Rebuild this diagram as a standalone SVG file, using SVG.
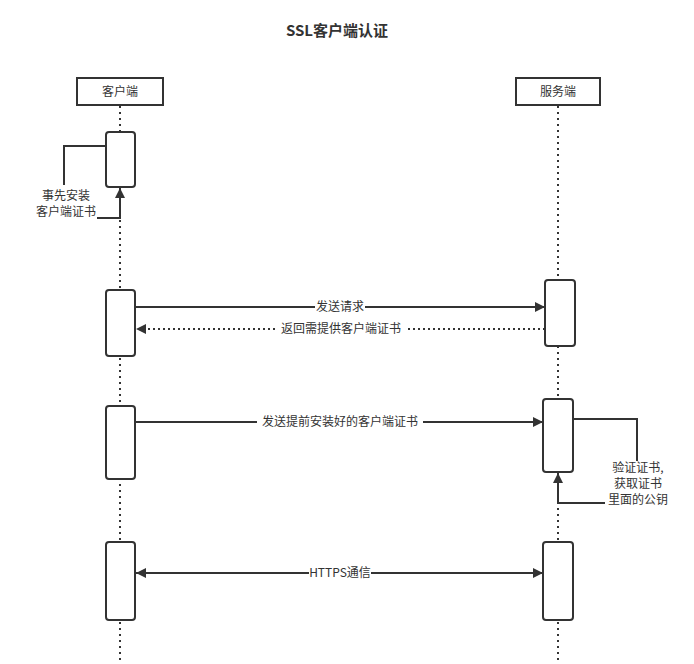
<svg xmlns="http://www.w3.org/2000/svg" width="694" height="664" viewBox="0 0 694 664">
<style>
text{font-family:"Noto Sans CJK SC","Liberation Sans",sans-serif;font-size:12px;fill:#333;}
.title{font-size:15px;font-weight:bold;}
.box{fill:#fff;stroke:#333;stroke-width:2;}
.act{fill:#fff;stroke:#333;stroke-width:2;}
.life{stroke:#333;stroke-width:2;stroke-dasharray:2,4;fill:none;}
.msg{stroke:#333;stroke-width:2;fill:none;}
.dot{stroke:#333;stroke-width:2;fill:none;stroke-dasharray:2,3;}
.lbl{fill:#fff;}
</style>
<defs>
<marker id="ah" viewBox="0 0 10 10" refX="10" refY="5" markerWidth="14" markerHeight="10" markerUnits="userSpaceOnUse" orient="auto-start-reverse">
<path d="M0,0 L10,5 L0,10 Z" fill="#333"/>
</marker>
</defs>
<rect width="694" height="664" fill="#fff"/>
<text class="title" x="337" y="36" text-anchor="middle">SSL客户端认证</text>
<g id="lifelines">
<line class="life" x1="120" y1="106" x2="120" y2="664"/>
<line class="life" x1="558" y1="106" x2="558" y2="664"/>
</g>
<g id="client">
<rect class="box" x="77" y="78" width="86" height="27"/>
<text x="120" y="96" text-anchor="middle">客户端</text>
</g>
<g id="server">
<rect class="box" x="516" y="78" width="84" height="27"/>
<text x="558" y="96" text-anchor="middle">服务端</text>
</g>
<g id="activations">
<rect class="act" x="106" y="132" width="29" height="55" rx="3"/>
<rect class="act" x="106" y="290" width="29" height="66" rx="3"/>
<rect class="act" x="106" y="406" width="29" height="73" rx="3"/>
<rect class="act" x="106" y="542" width="29" height="78" rx="3"/>
<rect class="act" x="545" y="280" width="30" height="66" rx="3"/>
<rect class="act" x="543" y="399" width="30" height="73" rx="3"/>
<rect class="act" x="543" y="542" width="30" height="78" rx="3"/>
</g>
<g id="connectors">
<polyline class="msg" points="106,146 64,146 64,185"/>
<polyline class="msg" points="97,218 120,218 120,188" marker-end="url(#ah)"/>
<text x="66" y="200" text-anchor="middle">事先安装</text>
<text x="66" y="216" text-anchor="middle">客户端证书</text>

<line class="msg" x1="135" y1="307" x2="545" y2="307" marker-end="url(#ah)"/>
<rect class="lbl" x="315" y="299" width="50" height="15"/>
<text x="340" y="311" text-anchor="middle">发送请求</text>

<line class="dot" x1="545" y1="329" x2="136" y2="329" marker-end="url(#ah)"/>
<rect class="lbl" x="275" y="321" width="132" height="15"/>
<text x="341" y="333" text-anchor="middle">返回需提供客户端证书</text>

<line class="msg" x1="135" y1="422" x2="543" y2="422" marker-end="url(#ah)"/>
<rect class="lbl" x="257" y="414" width="166" height="15"/>
<text x="340" y="426" text-anchor="middle">发送提前安装好的客户端证书</text>

<polyline class="msg" points="573,419 637,419 637,461"/>
<polyline class="msg" points="605,503 558,503 558,473" marker-end="url(#ah)"/>
<text x="638" y="472" text-anchor="middle">验证证书,</text>
<text x="638" y="488" text-anchor="middle">获取证书</text>
<text x="638" y="504" text-anchor="middle">里面的公钥</text>

<line class="msg" x1="136" y1="573" x2="543" y2="573" marker-start="url(#ah)" marker-end="url(#ah)"/>
<rect class="lbl" x="309" y="565" width="62" height="15"/>
<text x="340" y="577" text-anchor="middle">HTTPS通信</text>
</g>
</svg>
